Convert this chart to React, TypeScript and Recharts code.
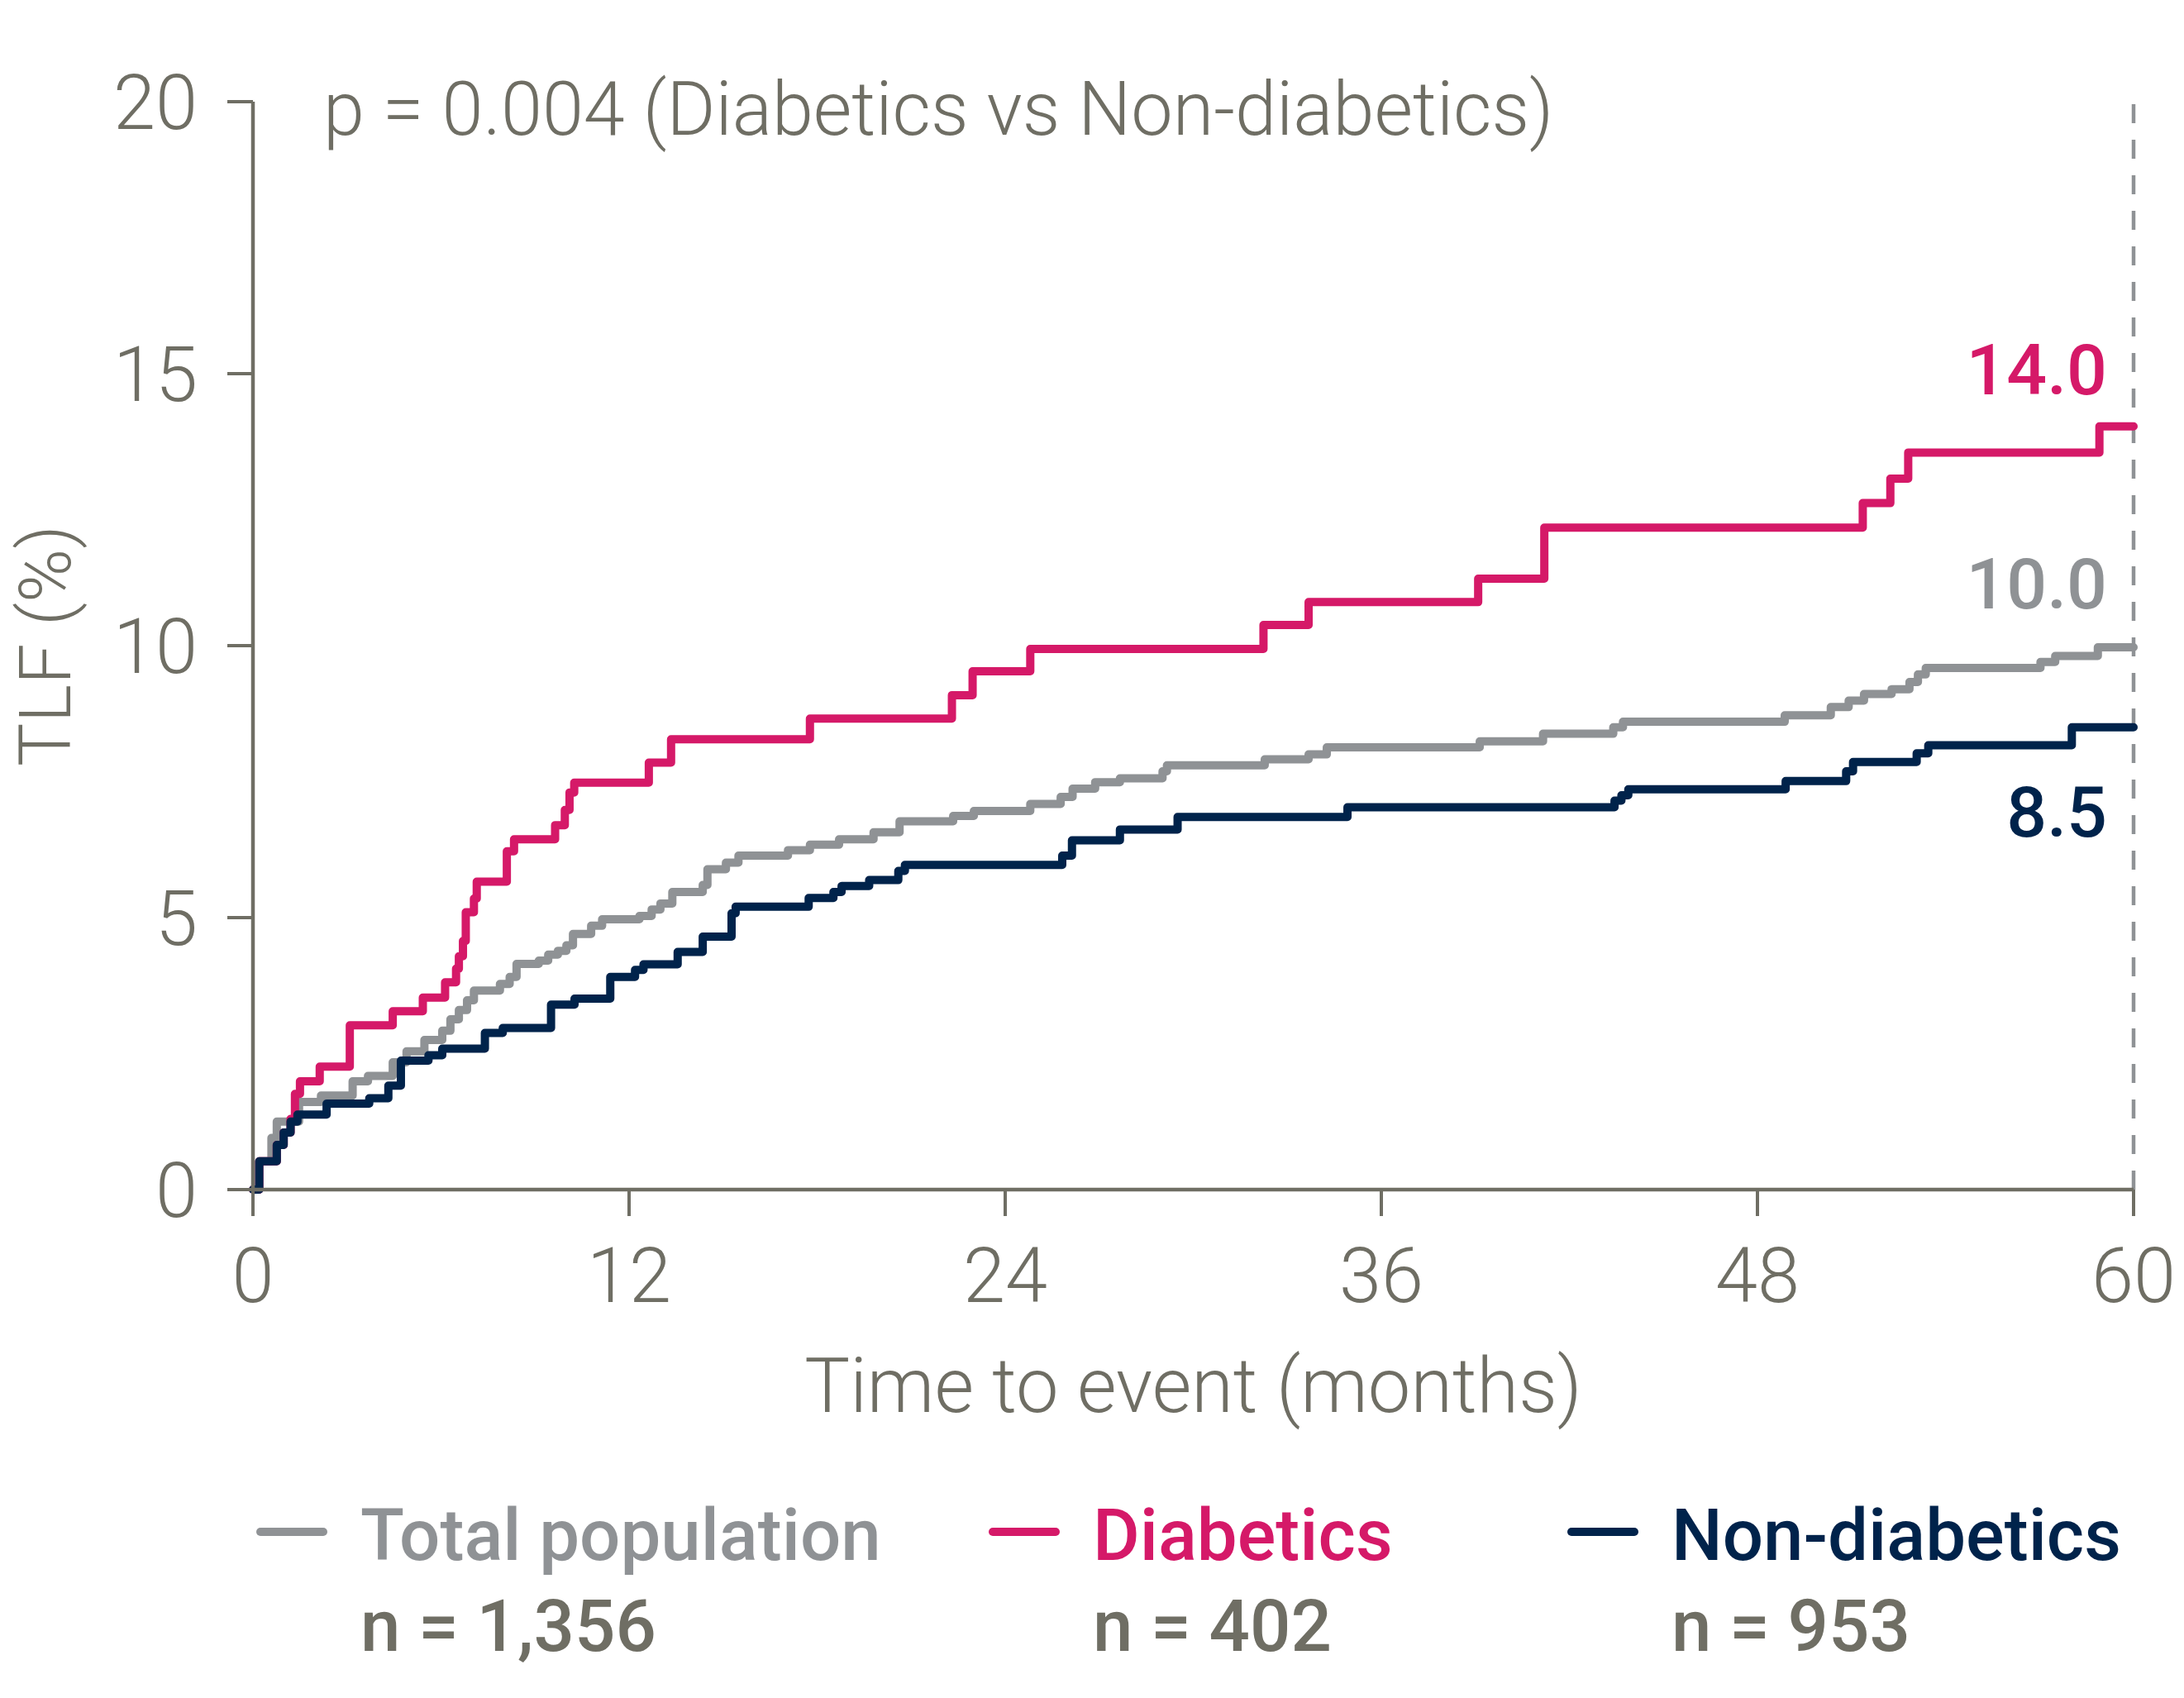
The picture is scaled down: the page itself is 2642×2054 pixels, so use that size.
import React from 'react';
import { LineChart, Line, XAxis, YAxis, ReferenceLine, Legend, Customized } from 'recharts';

// Kaplan-Meier style cumulative TLF (%) - step points
const totalMonths = [0, 0.2, 0.59, 0.76, 1.47, 2.17, 3.18, 3.67, 4.46, 4.9, 5.47, 6.04, 6.3, 6.57, 6.83, 7.05, 7.88, 8.19, 8.41, 9.12, 9.42, 9.73, 10.0, 10.21, 10.79, 11.14, 12.33, 12.72, 13.0, 13.38, 14.35, 14.5, 15.09, 15.49, 17.07, 17.77, 18.7, 19.8, 20.63, 22.34, 23.0, 24.8, 25.77, 26.15, 26.87, 27.66, 29.02, 29.16, 32.28, 33.68, 34.26, 39.14, 41.16, 43.4, 43.71, 48.87, 50.34, 50.91, 51.4, 52.28, 52.85, 53.12, 53.37, 57.03, 57.5, 58.86, 60];
const totalTLF = [0, 0.52, 0.95, 1.25, 1.61, 1.73, 1.99, 2.09, 2.34, 2.54, 2.75, 2.92, 3.13, 3.3, 3.48, 3.66, 3.78, 3.91, 4.15, 4.21, 4.32, 4.39, 4.49, 4.7, 4.85, 4.97, 5.03, 5.15, 5.26, 5.47, 5.6, 5.89, 6.01, 6.14, 6.24, 6.34, 6.44, 6.57, 6.77, 6.87, 6.96, 7.09, 7.22, 7.37, 7.49, 7.56, 7.69, 7.8, 7.91, 8.0, 8.13, 8.24, 8.38, 8.5, 8.6, 8.72, 8.87, 8.99, 9.11, 9.2, 9.33, 9.47, 9.59, 9.7, 9.81, 9.97, 9.97];

const diabMonths = [0, 0.2, 0.76, 0.98, 1.2, 1.34, 1.5, 2.13, 3.09, 4.46, 5.42, 6.13, 6.48, 6.57, 6.7, 6.79, 7.05, 7.14, 8.1, 8.33, 9.64, 9.95, 10.1, 10.25, 12.63, 13.34, 17.77, 22.3, 22.96, 24.8, 32.24, 33.68, 39.09, 41.2, 51.36, 52.24, 52.81, 58.91, 60];
const diabTLF = [0, 0.52, 0.82, 1.05, 1.3, 1.76, 1.99, 2.26, 3.02, 3.28, 3.53, 3.81, 4.06, 4.29, 4.57, 5.1, 5.35, 5.66, 6.22, 6.44, 6.7, 6.98, 7.3, 7.48, 7.85, 8.28, 8.66, 9.09, 9.53, 9.94, 10.38, 10.8, 11.23, 12.17, 12.62, 13.07, 13.55, 14.03, 14.03];

const nonMonths = [0, 0.2, 0.76, 0.98, 1.2, 1.42, 2.35, 3.71, 4.32, 4.72, 5.6, 6.04, 7.4, 7.97, 9.51, 10.26, 11.4, 12.19, 12.46, 13.55, 14.35, 15.27, 15.4, 17.73, 18.52, 18.78, 19.66, 20.59, 20.8, 25.82, 26.13, 27.66, 29.5, 34.92, 43.44, 43.66, 43.88, 48.9, 50.83, 51.05, 53.08, 53.45, 58.03, 60];
const nonTLF = [0, 0.52, 0.82, 1.05, 1.25, 1.38, 1.58, 1.68, 1.91, 2.37, 2.47, 2.59, 2.88, 2.97, 3.4, 3.51, 3.91, 4.04, 4.14, 4.37, 4.65, 5.08, 5.2, 5.36, 5.47, 5.58, 5.69, 5.86, 5.97, 6.14, 6.42, 6.62, 6.85, 7.03, 7.15, 7.25, 7.36, 7.51, 7.69, 7.86, 8.02, 8.17, 8.5, 8.5];

const seriesNames = ['Total population', 'Diabetics', 'Non-diabetics'];
const seriesN = ['n = 1,356', 'n = 402', 'n = 953'];
const endLabels = ['10.0', '14.0', '8.5'];
const xTicks = [0, 12, 24, 36, 48, 60];
const yTicks = [0, 5, 10, 15, 20];
const pValueText = 'p = 0.004 (Diabetics vs Non-diabetics)';

const W = 2642;
const H = 2054;
const FONT = 'Roboto, "Noto Sans", sans-serif';
const AXIS = '#6f6e64';
const COLORS = ['#8f9295', '#d51968', '#00234b'];
const END_DY = [-47, -39, 132];

const zip = (months: number[], tlf: number[]) => months.map((t, i) => ({ t, v: tlf[i] }));
const seriesData = [zip(totalMonths, totalTLF), zip(diabMonths, diabTLF), zip(nonMonths, nonTLF)];

const XTick = ({ x, y, payload }: any) => (
    <text x={x} y={y + 104} textAnchor="middle" fill={AXIS} fontSize={92} fontWeight={300} fontFamily={FONT}>
        {payload.value}
    </text>
);

const YTick = ({ x, y, payload }: any) => (
    <text x={x} y={y + 33} textAnchor="end" fill={AXIS} fontSize={92} fontWeight={300} fontFamily={FONT}>
        {payload.value}
    </text>
);

const endLabel = (i: number) => (props: any) => {
    const { x, y, index } = props;
    if (index !== seriesData[i].length - 1) return null;
    return (
        <text x={x - 32} y={y + END_DY[i]} textAnchor="end" fill={COLORS[i]} fontSize={86} fontWeight={500} fontFamily={FONT}>
            {endLabels[i]}
        </text>
    );
};

const legendX = [315, 1201, 1901];

const LegendBlock = () => (
    <svg width={W} height={260} style={{ display: 'block' }}>
        {seriesNames.map((name, i) => (
            <g key={name}>
                <line x1={legendX[i]} x2={legendX[i] + 76} y1={73} y2={73} stroke={COLORS[i]} strokeWidth={10} strokeLinecap="round" />
                <text x={legendX[i] + 121} y={107} fill={COLORS[i]} fontSize={87} fontWeight={500} fontFamily={FONT}>
                    {name}
                </text>
                <text x={legendX[i] + 121} y={217} fill={AXIS} fontSize={87} fontWeight={500} fontFamily={FONT}>
                    {seriesN[i]}
                </text>
            </g>
        ))}
    </svg>
);

const PValue = () => (
    <text x={391} y={163} fill={AXIS} fontSize={90} fontWeight={300} fontFamily={FONT}>
        {pValueText}
    </text>
);

export default function App() {
    return (
        <div style={{ width: W, height: H, background: '#fff' }}>
            <style>{'body{margin:0;background:#fff}'}</style>
            <LineChart width={W} height={H} margin={{ top: 123, right: 61, bottom: 515, left: 186 }}>
                <XAxis
                    dataKey="t"
                    type="number"
                    domain={[0, 60]}
                    ticks={xTicks}
                    allowDuplicatedCategory={false}
                    height={100}
                    stroke={AXIS}
                    strokeWidth={4.5}
                    tickSize={32}
                    tickMargin={0}
                    tick={<XTick />}
                    tickLine={{ stroke: AXIS, strokeWidth: 4 }}
                    label={(p: any) => {
                        const vb = p.viewBox || {};
                        return (
                            <text x={vb.x + vb.width / 2} y={vb.y + 269} textAnchor="middle" fill={AXIS} fontSize={92} fontWeight={300} fontFamily={FONT}>
                                Time to event (months)
                            </text>
                        );
                    }}
                />
                <YAxis
                    type="number"
                    domain={[0, 20]}
                    ticks={yTicks}
                    width={120}
                    stroke={AXIS}
                    strokeWidth={4.5}
                    tickSize={31}
                    tickMargin={36}
                    tick={<YTick />}
                    tickLine={{ stroke: AXIS, strokeWidth: 4 }}
                    label={(p: any) => {
                        const vb = p.viewBox || {};
                        const cx = 85;
                        const cy = vb.y + vb.height / 2;
                        return (
                            <text x={cx} y={cy} transform={`rotate(-90 ${cx} ${cy})`} textAnchor="middle" fill={AXIS} fontSize={88} fontWeight={300} fontFamily={FONT}>
                                TLF (%)
                            </text>
                        );
                    }}
                />
                <ReferenceLine x={60} stroke="#8f9295" strokeWidth={4.5} strokeDasharray="23 20" />
                {seriesData.map((d, i) => (
                    <Line
                        key={seriesNames[i]}
                        data={d}
                        dataKey="v"
                        name={seriesNames[i]}
                        type="stepAfter"
                        stroke={COLORS[i]}
                        strokeWidth={10}
                        strokeLinejoin="round"
                        strokeLinecap="round"
                        dot={false}
                        activeDot={false}
                        isAnimationActive={false}
                        label={endLabel(i)}
                    />
                ))}
                <Customized component={PValue} />
                <Legend
                    layout="horizontal"
                    verticalAlign="middle"
                    align="center"
                    wrapperStyle={{ top: 1780, left: 0, width: W }}
                    content={() => <LegendBlock />}
                />
            </LineChart>
        </div>
    );
}
